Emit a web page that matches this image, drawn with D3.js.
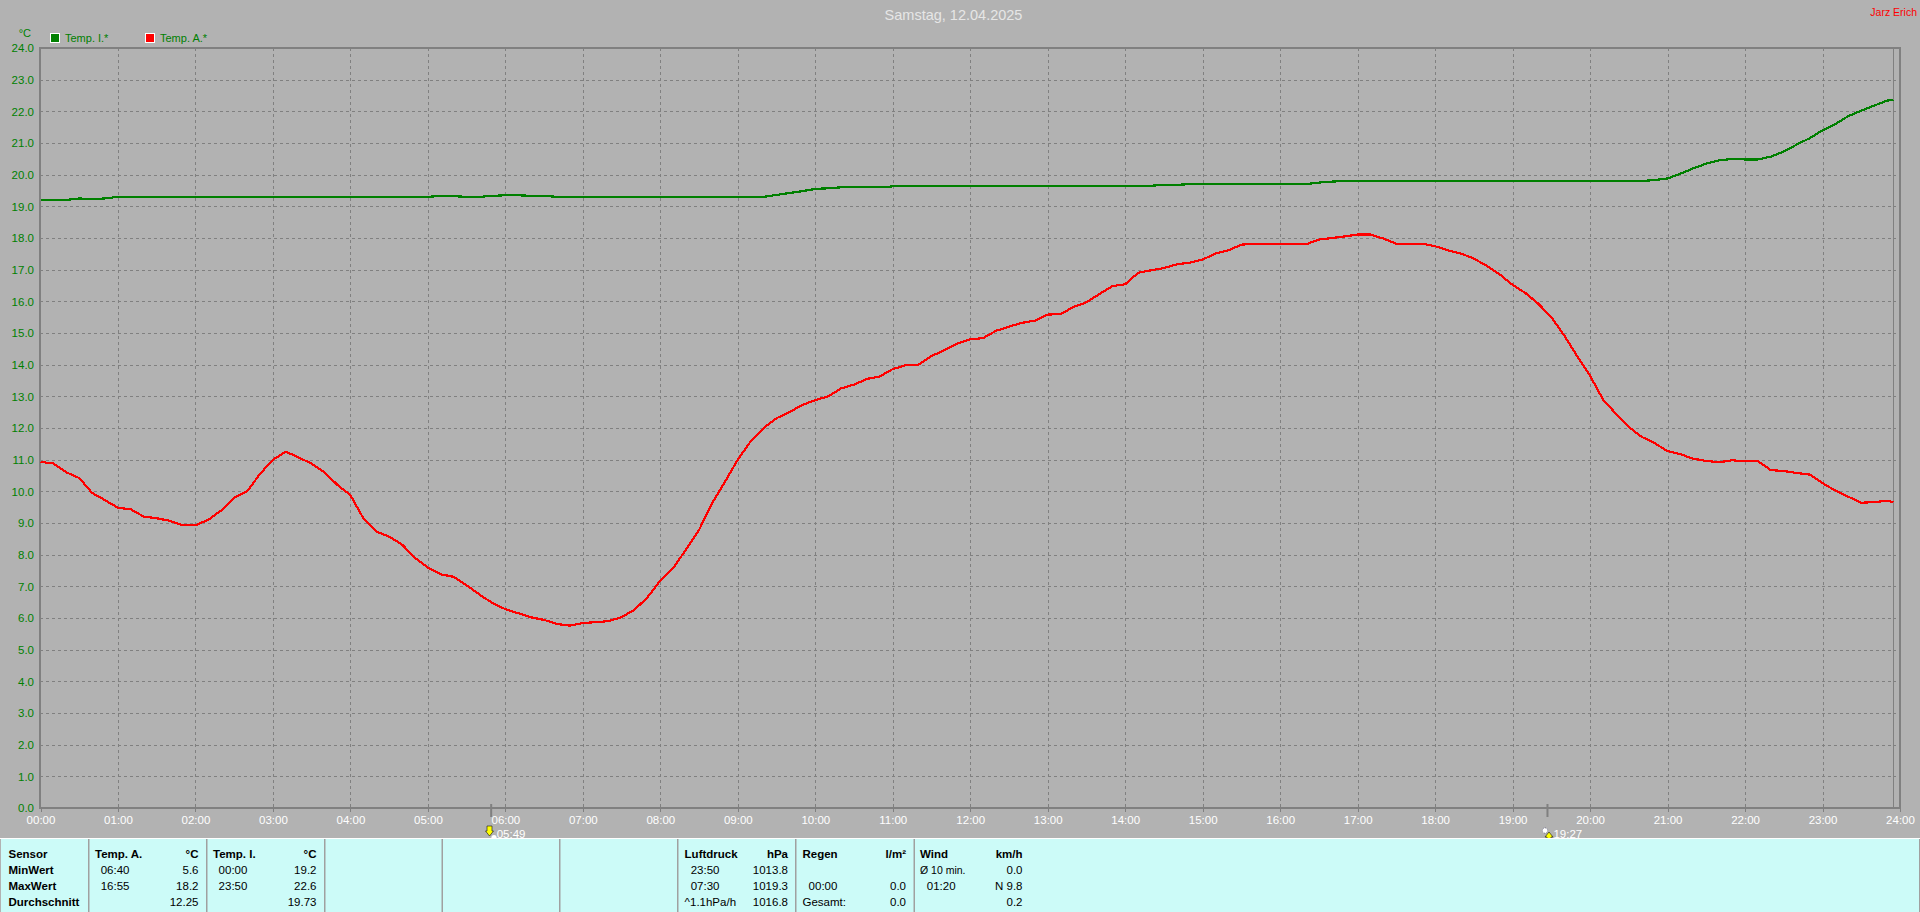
<!DOCTYPE html>
<html>
<head>
<meta charset="utf-8">
<title>Samstag, 12.04.2025</title>
<script src="https://cdn.jsdelivr.net/npm/d3@7/dist/d3.min.js"></script>
<style>
html,body{margin:0;padding:0;background:#b2b2b2;overflow:hidden;}
svg{display:block;}
text{font-family:"Liberation Sans",Arial,sans-serif;}
.axis path{display:none;}
</style>
</head>
<body>
<svg id="chart" width="1920" height="912"></svg>
<script>
// ---- data ----
const chartTitle = "Samstag, 12.04.2025";
const author = "Jarz Erich";
const yUnit = "°C";
const yTicks = [0,1,2,3,4,5,6,7,8,9,10,11,12,13,14,15,16,17,18,19,20,21,22,23,24];
const hourTicks = [0,1,2,3,4,5,6,7,8,9,10,11,12,13,14,15,16,17,18,19,20,21,22,23,24];

// sample time in minutes: every ten minutes, last reading at 23:55
const sampleMinutes = [...d3.range(0,1431,10),1435];

const tempA = [
10.93,10.88,10.60,10.42,9.95,9.72, 9.48,9.43,9.20,9.15,9.07,8.93,
8.93,9.10,9.40,9.80,10.00,10.55, 11.00,11.25,11.07,10.87,10.60,10.20,
9.88,9.15,8.73,8.57,8.32,7.90, 7.59,7.38,7.30,7.03,6.74,6.47,
6.28,6.15,6.02,5.94,5.81,5.76, 5.84,5.87,5.90,6.03,6.26,6.65,
7.18,7.58,8.17,8.78,9.62,10.30, 11.00,11.58,12.00,12.31,12.50,12.73,
12.88,13.00,13.25,13.37,13.55,13.63, 13.86,13.98,14.00,14.27,14.46,14.67,
14.80,14.84,15.07,15.20,15.32,15.39, 15.58,15.60,15.82,15.97,16.23,16.48,
16.54,16.90,16.98,17.05,17.17,17.22, 17.32,17.51,17.61,17.79,17.82,17.80,
17.80,17.80,17.80,17.95,18.00,18.05, 18.11,18.11,17.98,17.82,17.82,17.82,
17.74,17.61,17.51,17.35,17.12,16.85, 16.52,16.26,15.92,15.50,14.92,14.27,
13.65,12.90,12.45,12.03,11.72,11.52, 11.27,11.17,11.03,10.96,10.92,10.98,
10.95,10.95,10.67,10.64,10.58,10.53, 10.26,10.02,9.83,9.64,9.66,9.70,9.66];

const tempI = [
19.20,19.20,19.20,19.25,19.22,19.25, 19.30,19.30,19.30,19.30,19.30,19.30,
19.30,19.30,19.30,19.30,19.30,19.30, 19.30,19.30,19.30,19.30,19.30,19.30,
19.30,19.30,19.30,19.30,19.30,19.30, 19.30,19.33,19.32,19.30,19.30,19.33,
19.35,19.35,19.33,19.33,19.30,19.30, 19.30,19.30,19.30,19.30,19.30,19.30,
19.30,19.30,19.30,19.30,19.30,19.30, 19.30,19.30,19.30,19.36,19.42,19.48,
19.55,19.57,19.60,19.60,19.60,19.60, 19.63,19.63,19.63,19.63,19.63,19.63,
19.63,19.63,19.63,19.63,19.63,19.63, 19.63,19.63,19.63,19.63,19.63,19.63,
19.63,19.63,19.65,19.68,19.68,19.70, 19.70,19.70,19.70,19.70,19.70,19.70,
19.70,19.70,19.70,19.75,19.78,19.80, 19.80,19.80,19.80,19.80,19.80,19.80,
19.80,19.80,19.80,19.80,19.80,19.80, 19.80,19.80,19.80,19.80,19.80,19.80,
19.80,19.80,19.80,19.80,19.80,19.83, 19.88,20.03,20.20,20.35,20.45,20.50,
20.48,20.48,20.57,20.73,20.95,21.15, 21.40,21.60,21.85,22.02,22.18,22.34,22.36];

const legendLabels = ["Temp. I.*","Temp. A.*"];
const sunriseMinute = 349, sunriseLabel = "05:49";
const sunsetMinute = 1167, sunsetLabel = "19:27";

// summary table, one list per column group
const colSensor = ["Sensor","MinWert","MaxWert","Durchschnitt"];
const colTempA  = [["Temp. A.","°C"],["06:40","5.6"],["16:55","18.2"],["","12.25"]];
const colTempI  = [["Temp. I.","°C"],["00:00","19.2"],["23:50","22.6"],["","19.73"]];
const colLuft   = [["Luftdruck","hPa"],["23:50","1013.8"],["07:30","1019.3"],["^1.1hPa/h","1016.8"]];
const colRegen  = [["Regen","l/m²"],["",""],["00:00","0.0"],["Gesamt:","0.0"]];
const colWind   = [["Wind","km/h"],["Ø 10 min.","0.0"],["01:20","N 9.8"],["","0.2"]];

// ---- layout ----
const green="#008000", red="#ff0000", gray="#808080", panelFill="#ccfbf8";
const svg=d3.select("#chart");
const x=d3.scaleLinear().domain([0,1440]).range([40.5,1900]);
const y=d3.scaleLinear().domain([0,24]).range([808,48]);

svg.append("rect").attr("width",1920).attr("height",912).attr("fill","#b2b2b2");

// grid + axes (through d3 axes)
const hGrid=svg.append("g").attr("class","axis").attr("transform","translate(40,0)")
  .call(d3.axisLeft(y).tickValues(yTicks.slice(1,-1)).tickSize(-1856).tickFormat(""));
hGrid.selectAll("line").attr("stroke",gray).attr("stroke-dasharray","3,3").attr("shape-rendering","crispEdges");
const vGrid=svg.append("g").attr("class","axis").attr("transform","translate(0,48)")
  .call(d3.axisBottom(x).tickValues(hourTicks.slice(1,-1).map(h=>h*60)).tickSize(760).tickFormat(""));
vGrid.selectAll("line").attr("stroke",gray).attr("stroke-dasharray","3,3").attr("shape-rendering","crispEdges");

const yAxis=svg.append("g").attr("class","axis").attr("transform","translate(35,0)")
  .call(d3.axisLeft(y).tickValues(yTicks).tickSize(0).tickPadding(1).tickFormat(d3.format(".1f")));
yAxis.selectAll("text").attr("fill",green).style("font-size","11.5px").style("font-family",'"Liberation Sans",Arial,sans-serif');

const xAxis=svg.append("g").attr("class","axis").attr("transform","translate(0,808)")
  .call(d3.axisBottom(x).tickValues(hourTicks.map(h=>h*60)).tickSize(4).tickPadding(4)
    .tickFormat(m=>d3.format("02")(m/60)+":00"));
xAxis.selectAll("line").attr("stroke",gray).attr("shape-rendering","crispEdges");
xAxis.selectAll("text").attr("fill","#ffffff").style("font-size","11.5px").style("font-family",'"Liberation Sans",Arial,sans-serif');

// frame
const frame=svg.append("g").attr("shape-rendering","crispEdges");
frame.append("rect").attr("x",39).attr("y",47).attr("width",2).attr("height",762).attr("fill",gray);
frame.append("rect").attr("x",1899).attr("y",47).attr("width",2).attr("height",762).attr("fill",gray);
frame.append("rect").attr("x",39).attr("y",47).attr("width",1862).attr("height",2).attr("fill",gray);
frame.append("rect").attr("x",39).attr("y",807).attr("width",1862).attr("height",2).attr("fill",gray);
frame.append("line").attr("x1",x(1435)).attr("x2",x(1435)).attr("y1",48).attr("y2",808).attr("stroke",gray);

// series
const line=d3.line().x((d,i)=>x(sampleMinutes[i])).y(d=>y(d));
svg.append("path").datum(tempI).attr("d",line).attr("fill","none").attr("stroke",green).attr("stroke-width",2.2).attr("shape-rendering","crispEdges");
svg.append("path").datum(tempA).attr("d",line).attr("fill","none").attr("stroke",red).attr("stroke-width",2.2).attr("shape-rendering","crispEdges");

// title, author, unit
svg.append("text").attr("x",953.5).attr("y",20).attr("text-anchor","middle").attr("fill","#e6e6e6").style("font-size","14.5px").text(chartTitle);
svg.append("text").attr("x",1917).attr("y",16).attr("text-anchor","end").attr("fill",red).style("font-size","10.5px").text(author);
svg.append("text").attr("x",31).attr("y",37).attr("text-anchor","end").attr("fill",green).style("font-size","11px").text(yUnit);

// legend
const legendSwatchX=[50.5,145.5], legendColors=[green,red];
legendLabels.forEach((l,i)=>{
  svg.append("rect").attr("x",legendSwatchX[i]).attr("y",33.5).attr("width",9).attr("height",9)
    .attr("fill",legendColors[i]).attr("stroke","#fff").attr("stroke-width",1);
  svg.append("text").attr("x",legendSwatchX[i]+14.5).attr("y",42).attr("fill",green)
    .style("font-size","11px").text(l);
});

// sunrise / sunset markers
[[sunriseMinute,sunriseLabel,-1],[sunsetMinute,sunsetLabel,1]].forEach(([m,l,dir])=>{
  const px=x(m);
  svg.append("rect").attr("x",px-1).attr("y",804).attr("width",2).attr("height",13).attr("fill",gray);
  const g=svg.append("g").attr("transform",`translate(${Math.round(px)},0)`);
  if(dir<0){
    g.append("path").attr("d","M-4,826 h5 v5 h1.5 l-4,5 l-4,-5 h1.5 z").attr("fill","#ffff00").attr("stroke","#111").attr("stroke-width",.6);
    g.append("circle").attr("cx",3).attr("cy",837.5).attr("r",2.6).attr("fill","#fff");
    svg.append("text").attr("x",px+5.5).attr("y",838).attr("fill","#fff").style("font-size","11.5px").text(l);
  }else{
    g.append("circle").attr("cx",-2).attr("cy",830.5).attr("r",2.6).attr("fill","#fff").attr("stroke","#336").attr("stroke-width",.5).attr("stroke-dasharray","1,1");
    g.append("path").attr("d","M2,832 l4,5 h-2 v2 h-4 v-2 h-2 z").attr("fill","#ffff00").attr("stroke","#111").attr("stroke-width",.6);
    svg.append("text").attr("x",px+6).attr("y",838).attr("fill","#fff").style("font-size","11.5px").text(l);
  }
});

// summary panel
svg.append("rect").attr("x",0).attr("y",838).attr("width",1920).attr("height",1).attr("fill","#ffffff");
svg.append("rect").attr("x",1).attr("y",839).attr("width",1918).attr("height",73).attr("fill",panelFill);
svg.append("rect").attr("x",1919).attr("y",839).attr("width",1).attr("height",73).attr("fill","#a0a0a0");
[88,206,324,441.5,559,677,795,913.5].forEach(sx=>{
  svg.append("rect").attr("x",sx).attr("y",839).attr("width",1.5).attr("height",73).attr("fill","#a0a0a0");
});
const rowY=d3.scaleLinear().domain([0,3]).range([857.5,905.5]);
const bold=(t,xp,r,anchor)=>svg.append("text").attr("x",xp).attr("y",rowY(r)).attr("text-anchor",anchor||"start")
  .attr("fill","#000").attr("font-weight","bold").style("font-size","11.5px").text(t);
const norm=(t,xp,r,anchor,size)=>svg.append("text").attr("x",xp).attr("y",rowY(r)).attr("text-anchor",anchor||"start")
  .attr("fill","#000").style("font-size",(size||11.5)+"px").text(t);
colSensor.forEach((t,r)=>bold(t,8.5,r));
[[colTempA,95,100.7,198.5],[colTempI,213,218.6,316.5],[colLuft,684.6,690.7,788],[colRegen,802.5,808.6,906],[colWind,920,926.8,1022.5]]
.forEach(([col,hx,lx,rx])=>{
  col.forEach(([a,b],r)=>{
    if(r===0){bold(a,hx,r);bold(b,rx,r,"end");}
    else{
      const isFlush=(a==="Gesamt:"||a==="Ø 10 min."||a==="^1.1hPa/h");
      norm(a,isFlush?hx:lx,r,"start",a==="Ø 10 min."?10.5:11.5);norm(b,rx,r,"end");
    }
  });
});
</script>
</body>
</html>
